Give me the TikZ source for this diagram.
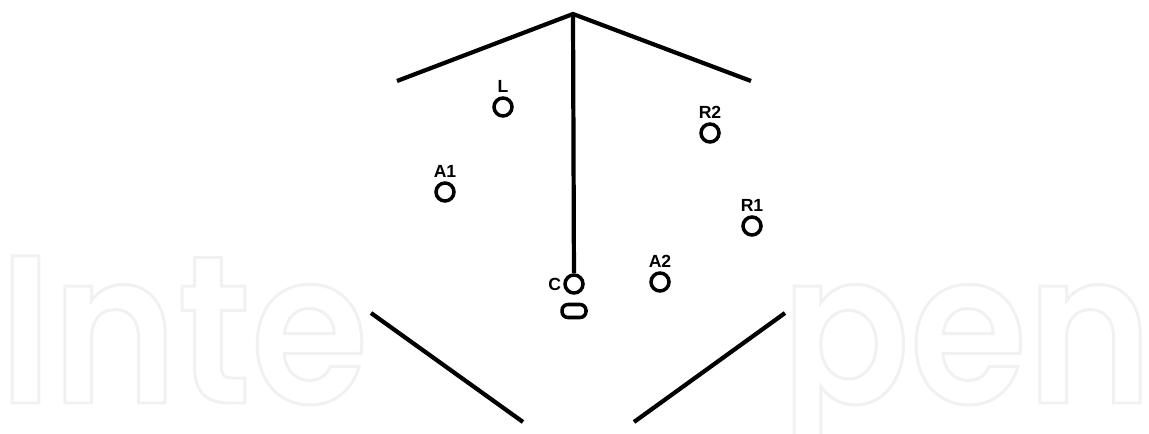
\documentclass[tikz,border=0pt]{standalone}
\usepackage{fontspec}
\setsansfont{Liberation Sans}
\newfontfamily\markfont[FakeStretch=0.9]{Poppins SemiBold}
\newcommand{\outlined}[1]{\special{pdf:literal direct 1 Tr 0.85 w 0.945 0.945 0.945 RG}#1\special{pdf:literal direct 0 Tr}}
\usetikzlibrary{positioning}
\tikzset{
  mic/.style={draw, circle, minimum size=0.18cm, inner sep=0pt, line width=1pt},
  tag/.style={font=\sffamily\bfseries\fontsize{5}{5}\selectfont, inner sep=0pt},
  markword/.style={font=\markfont\fontsize{60}{60}\selectfont, inner sep=0pt, anchor=base west}
}
\begin{document}
\begin{tikzpicture}[line width=1.2pt]
    \useasboundingbox (0,0) rectangle (11.49,4.33);

    % faint lettering left and right of the figure
    \node[markword] (inte) at (-0.03,0.30) {\outlined{Inte}};
    \node[markword] (pen) at (7.79,0.30) {\outlined{pen}};
    \fill[white] (3.65,0) rectangle (7.90,4.33);

    % walls
    \coordinate (apex) at (5.73,4.19);
    \coordinate (wallL) at (3.97,3.52);
    \coordinate (wallR) at (7.51,3.52);
    \coordinate (rearLa) at (3.71,1.20);
    \coordinate (rearLb) at (5.23,0.11);
    \coordinate (rearRa) at (7.85,1.20);
    \coordinate (rearRb) at (6.34,0.11);

    % microphones
    \node[mic] (L) at (5.03,3.26) {};
    \node[mic] (R2) at (7.10,3.00) {};
    \node[mic] (A1) at (4.45,2.41) {};
    \node[mic] (R1) at (7.52,2.07) {};
    \node[mic] (A2) at (6.60,1.51) {};
    \node[mic] (C) at (5.74,1.49) {};
    \node[draw, rounded corners=0.06cm, minimum width=0.24cm, minimum height=0.13cm, inner sep=0pt, line width=1pt] (pill) at (5.74,1.22) {};

    \node[tag, above=0.02cm of L] (tagL) {L};
    \node[tag, above=0.02cm of R2] (tagR2) {R2};
    \node[tag, above=0.02cm of A1] (tagA1) {A1};
    \node[tag, above=0.02cm of R1] (tagR1) {R1};
    \node[tag, above=0.02cm of A2] (tagA2) {A2};
    \node[tag, left=0cm of C] (tagC) {C};

    \draw (wallL) -- (apex) -- (wallR);
    \draw (apex) -- (C);
    \draw (rearLa) -- (rearLb);
    \draw (rearRa) -- (rearRb);

\end{tikzpicture}
\end{document}
